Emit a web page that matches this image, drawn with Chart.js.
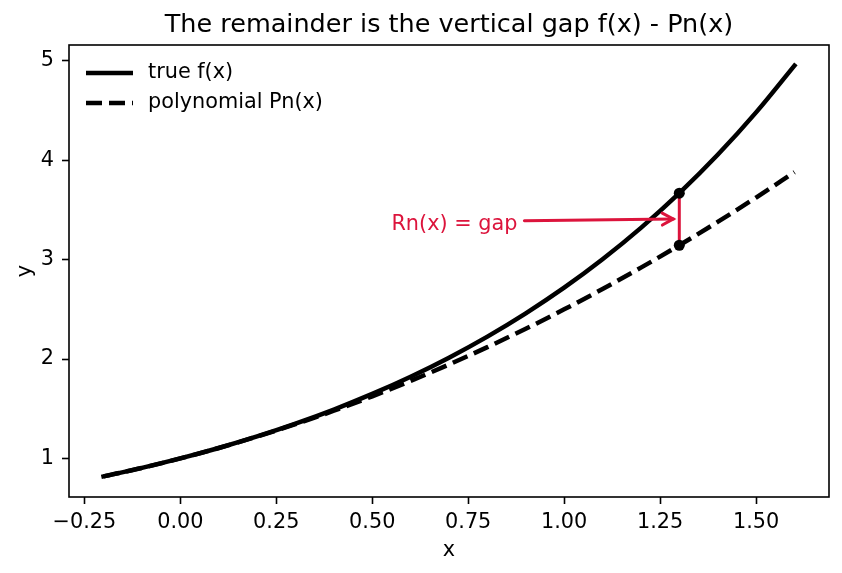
<!DOCTYPE html>
<html>
<head>
<meta charset="utf-8">
<script src="https://cdn.jsdelivr.net/npm/chart.js@4.4.1/dist/chart.umd.min.js"></script>
<style>
  html, body { margin: 0; padding: 0; background: #fff; }
  canvas { display: block; }
</style>
</head>
<body>
<canvas id="chart" width="842" height="573"></canvas>
<script>
/* ─── Data ──────────────────────────────────────────────────────────────── */
const X_VALUES = [-0.2, -0.1, 0.0, 0.1, 0.2, 0.3, 0.4, 0.5, 0.6, 0.7,
                  0.8, 0.9, 1.0, 1.1, 1.2, 1.3, 1.4, 1.5, 1.6];
const TRUE_F   = [0.819, 0.905, 1.000, 1.105, 1.221, 1.350, 1.492, 1.649, 1.822, 2.014,
                  2.226, 2.460, 2.718, 3.004, 3.320, 3.669, 4.055, 4.482, 4.953];
const POLY_PN  = [0.820, 0.905, 1.000, 1.105, 1.220, 1.345, 1.480, 1.625, 1.780, 1.945,
                  2.120, 2.305, 2.500, 2.705, 2.920, 3.145, 3.380, 3.625, 3.880];
const GAP_X    = [1.3, 1.3];
const GAP_Y    = [3.145, 3.669];
const X_TICKS  = [-0.25, 0.0, 0.25, 0.5, 0.75, 1.0, 1.25, 1.5];
const Y_TICKS  = [1, 2, 3, 4, 5];
const TITLE    = 'The remainder is the vertical gap f(x) - Pn(x)';
const LEGEND_LABELS = ['true f(x)', 'polynomial Pn(x)'];
const NOTE_TEXT  = 'Rn(x) = gap';
const NOTE_AT    = [0.55, 3.3];
const NOTE_POINT = [1.3, 3.41];

/* ─── Style ──────────────────────────────────────────────────────────────── */
const FONT    = "'DejaVu Sans', sans-serif";
const FS      = 20.8;
const CRIMSON = '#DC143C';
const LW      = 4.5;
const DASH    = [16, 7];

Chart.defaults.font.family = FONT;
Chart.defaults.font.size   = FS;
Chart.defaults.color       = '#000';

const pts = (xs, ys) => xs.map((v, i) => ({ x: v, y: ys[i] }));

/* ── Title over the axes, frame, in-axes legend and the arrow note ── */
const extras = {
  id: 'extras',
  afterDatasetsDraw(chart) {
    const { ctx, scales: { x, y } } = chart;
    ctx.save();
    ctx.font = `${FS}px ${FONT}`;
    ctx.fillStyle = CRIMSON;
    ctx.textAlign = 'left';
    ctx.textBaseline = 'alphabetic';
    const tx = x.getPixelForValue(NOTE_AT[0]);
    const ty = y.getPixelForValue(NOTE_AT[1]);
    ctx.fillText(NOTE_TEXT, tx, ty);

    const w  = ctx.measureText(NOTE_TEXT).width;
    const x0 = tx + w + 7, y0 = ty - FS * 0.44;
    const x1 = x.getPixelForValue(NOTE_POINT[0]) - 6;
    const y1 = y.getPixelForValue(NOTE_POINT[1]);
    const ang = Math.atan2(y1 - y0, x1 - x0);
    ctx.strokeStyle = CRIMSON;
    ctx.lineWidth = 3;
    ctx.lineCap = 'round';
    ctx.beginPath();
    ctx.moveTo(x0, y0);
    ctx.lineTo(x1, y1);
    ctx.stroke();
    const hl = 11, hw = 6;
    ctx.beginPath();
    ctx.moveTo(x1 - hl * Math.cos(ang) + hw * Math.sin(ang), y1 - hl * Math.sin(ang) - hw * Math.cos(ang));
    ctx.lineTo(x1, y1);
    ctx.lineTo(x1 - hl * Math.cos(ang) - hw * Math.sin(ang), y1 - hl * Math.sin(ang) + hw * Math.cos(ang));
    ctx.stroke();
    ctx.restore();
  },
  afterDraw(chart) {
    const { ctx, chartArea: a } = chart;
    ctx.save();
    // title, centred over the axes
    ctx.font = `25.5px ${FONT}`;
    ctx.fillStyle = '#000';
    ctx.textAlign = 'center';
    ctx.textBaseline = 'alphabetic';
    ctx.fillText(TITLE, (a.left + a.right) / 2, 32);

    // legend, inside the axes, upper left
    ctx.font = `${FS}px ${FONT}`;
    ctx.textAlign = 'left';
    ctx.textBaseline = 'middle';
    LEGEND_LABELS.forEach((label, i) => {
      const ly = a.top + 28 + i * 30;
      ctx.strokeStyle = '#000';
      ctx.lineWidth = LW;
      ctx.setLineDash(i === 1 ? DASH : []);
      ctx.beginPath();
      ctx.moveTo(a.left + 17, ly);
      ctx.lineTo(a.left + 64, ly);
      ctx.stroke();
      ctx.fillText(label, a.left + 79, ly);
    });
    // axes frame
    ctx.setLineDash([]);
    ctx.lineWidth = 1.6;
    ctx.strokeRect(a.left, a.top, a.right - a.left, a.bottom - a.top);
    ctx.restore();
  }
};

new Chart(document.getElementById('chart'), {
  type: 'line',
  data: {
    datasets: [
      {
        label: 'gap points',
        data: pts(GAP_X, GAP_Y),
        showLine: false,
        pointRadius: 5.5,
        pointBackgroundColor: '#000',
        pointBorderWidth: 0,
        order: 0
      },
      {
        label: 'gap',
        data: pts(GAP_X, GAP_Y),
        borderColor: CRIMSON,
        borderWidth: 3,
        pointRadius: 0,
        order: 1
      },
      {
        label: LEGEND_LABELS[1],
        data: pts(X_VALUES, POLY_PN),
        borderColor: '#000',
        borderWidth: LW,
        borderDash: DASH,
        pointRadius: 0,
        cubicInterpolationMode: 'monotone',
        order: 2
      },
      {
        label: LEGEND_LABELS[0],
        data: pts(X_VALUES, TRUE_F),
        borderColor: '#000',
        borderWidth: LW,
        borderCapStyle: 'square',
        pointRadius: 0,
        cubicInterpolationMode: 'monotone',
        order: 3
      }
    ]
  },
  options: {
    responsive: false,
    animation: false,
    devicePixelRatio: 1,
    layout: { padding: { left: 0, right: 13, top: 45, bottom: 0 } },
    plugins: {
      legend:  { display: false },
      tooltip: { enabled: false },
      title:   { display: false }
    },
    scales: {
      x: {
        type: 'linear',
        min: -0.29,
        max: 1.69,
        afterBuildTicks: s => { s.ticks = X_TICKS.map(v => ({ value: v })); },
        afterFit: s => { s.height = 76; },
        ticks: {
          padding: 6,
          maxRotation: 0,
          autoSkip: false,
          callback: v => (v < 0 ? '\u2212' : '') + Math.abs(v).toFixed(2)
        },
        grid: { drawOnChartArea: false, drawTicks: true, tickLength: 7, tickWidth: 1.6, tickColor: '#000' },
        border: { display: false },
        title: { display: true, text: 'x', padding: { top: 0, bottom: 10 } }
      },
      y: {
        type: 'linear',
        min: 0.612,
        max: 5.16,
        afterBuildTicks: s => { s.ticks = Y_TICKS.map(v => ({ value: v })); },
        afterFit: s => { s.width = 69; },
        ticks: { padding: 8, autoSkip: false, callback: v => String(v) },
        grid: { drawOnChartArea: false, drawTicks: true, tickLength: 7, tickWidth: 1.6, tickColor: '#000' },
        border: { display: false },
        title: { display: true, text: 'y', padding: { top: 13, bottom: 0 } }
      }
    }
  },
  plugins: [extras]
});
</script>
</body>
</html>
